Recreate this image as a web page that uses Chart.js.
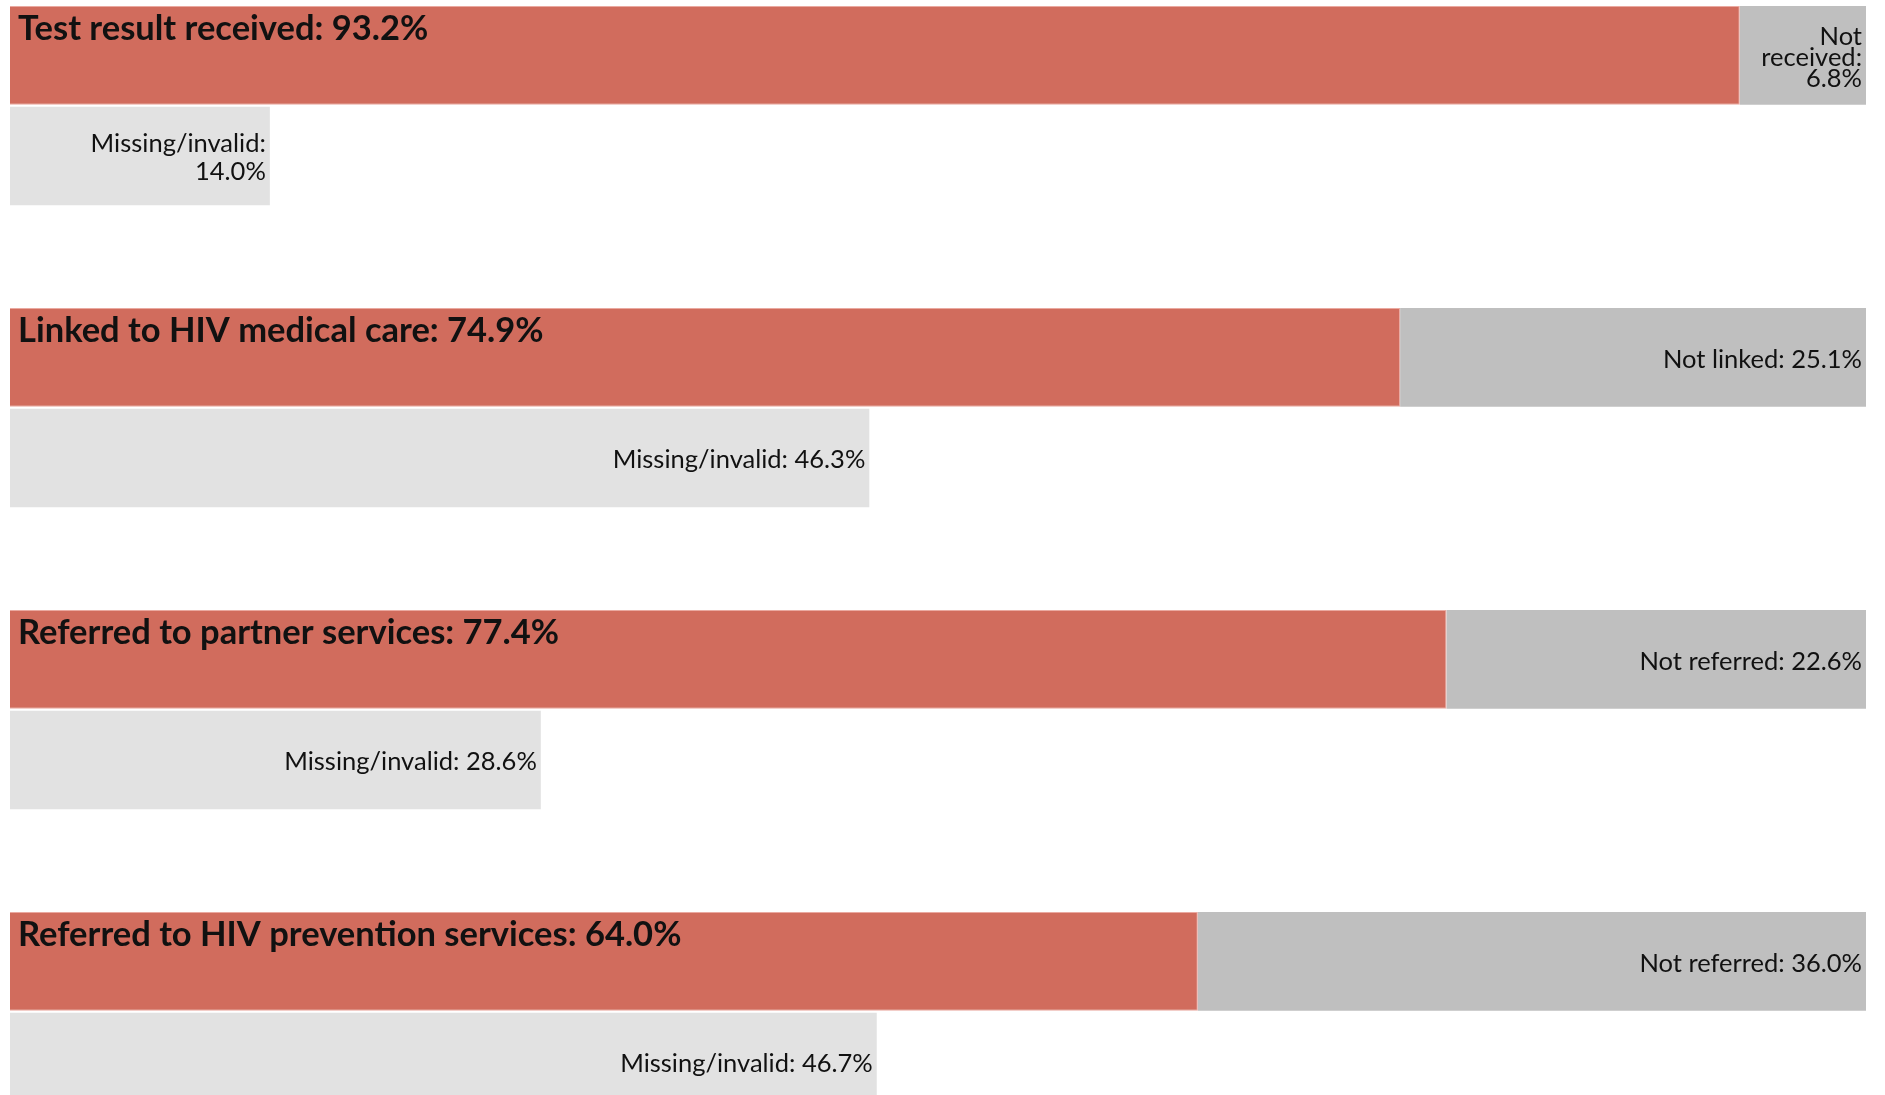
<!DOCTYPE html>
<html>
<head>
<meta charset="utf-8">
<script src="https://cdn.jsdelivr.net/npm/chart.js@4.4.1/dist/chart.umd.min.js"></script>
<style>
  html, body { margin: 0; padding: 0; background: #fff; overflow: hidden; }
  #wrap { position: absolute; left: 0; top: 0; width: 1885px; height: 1213px; }
</style>
</head>
<body>
<div id="wrap"><canvas id="cascade"></canvas></div>
<script>
// one entry per step of the cascade
const steps = ['Test result received', 'Linked to HIV medical care', 'Referred to partner services', 'Referred to HIV prevention services'];
const yesValues = [93.2, 74.9, 77.4, 64.0];
const noLabels = ['Not received', 'Not linked', 'Not referred', 'Not referred'];
const noValues = [6.8, 25.1, 22.6, 36.0];
const missingValues = [14.0, 46.3, 28.6, 46.7];

// each step takes three rows: the main bar, the missing bar, a blank row
const rows = [];
steps.forEach((s, i) => { rows.push(s, s + ' missing', s + ' gap'); });
const onRow = (vals, offset) => rows.map((r, k) => (k % 3 === offset ? vals[Math.floor(k / 3)] : null));

const fmt = v => v.toFixed(1) + '%';

function wrapText(ctx, text, maxW) {
  const words = text.split(' ');
  const lines = [];
  let line = '';
  words.forEach(w => {
    const test = line ? line + ' ' + w : w;
    if (line && ctx.measureText(test).width > maxW) {
      lines.push(line);
      line = w;
    } else {
      line = test;
    }
  });
  if (line) lines.push(line);
  return lines;
}

const barLabels = {
  id: 'barLabels',
  afterDatasetsDraw(chart) {
    const ctx = chart.ctx;
    ctx.save();
    ctx.fillStyle = '#111';

    // bold titles inside the red bars
    ctx.font = 'bold 34.5px Lato';
    ctx.textAlign = 'left';
    ctx.textBaseline = 'alphabetic';
    chart.getDatasetMeta(0).data.forEach((bar, k) => {
      if (k % 3 !== 0) return;
      const i = k / 3;
      const top = bar.y - bar.height / 2;
      ctx.fillText(steps[i] + ': ' + fmt(yesValues[i]), bar.base + 8, top + 34);
    });

    // right aligned labels for the grey bars
    ctx.font = '25.5px Lato';
    ctx.textAlign = 'right';
    ctx.textBaseline = 'middle';
    const drawRight = (bar, text, lineH) => {
      const w = bar.x - bar.base;
      const lines = wrapText(ctx, text, w - 24);
      const y0 = bar.y - (lines.length - 1) * lineH / 2;
      lines.forEach((ln, n) => ctx.fillText(ln, bar.x - 4, y0 + n * lineH + 2));
    };
    chart.getDatasetMeta(1).data.forEach((bar, k) => {
      if (k % 3 !== 0) return;
      const i = k / 3;
      drawRight(bar, noLabels[i] + ': ' + fmt(noValues[i]), 21);
    });
    chart.getDatasetMeta(2).data.forEach((bar, k) => {
      if (k % 3 !== 1) return;
      const i = (k - 1) / 3;
      drawRight(bar, 'Missing/invalid: ' + fmt(missingValues[i]), 28);
    });
    ctx.restore();
  }
};

new Chart(document.getElementById('cascade'), {
  type: 'bar',
  data: {
    labels: rows,
    datasets: [{
      label: 'Yes',
      data: onRow(yesValues, 0),
      backgroundColor: '#d16c5d',
      borderColor: 'rgba(232, 160, 150, 0.9)',
      borderWidth: 1
    }, {
      label: 'No',
      data: onRow(noValues, 0),
      backgroundColor: '#bfbfbf'
    }, {
      label: 'Missing/invalid',
      data: onRow(missingValues, 1),
      backgroundColor: '#e2e2e2'
    }]
  },
  options: {
    indexAxis: 'y',
    responsive: true,
    maintainAspectRatio: false,
    animation: false,
    layout: { padding: { left: 10, right: 19, top: 5, bottom: 0 } },
    datasets: { bar: { barPercentage: 0.98, categoryPercentage: 1 } },
    scales: {
      x: { stacked: true, min: 0, max: 100, display: false },
      y: { stacked: true, display: false }
    },
    plugins: {
      legend: { display: false },
      tooltip: { enabled: false }
    }
  },
  plugins: [barLabels]
});
</script>
</body>
</html>
